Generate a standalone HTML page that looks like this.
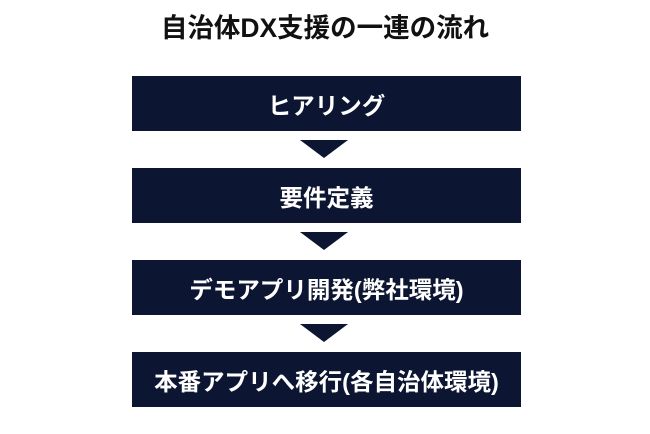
<!DOCTYPE html>
<html><head><meta charset="utf-8"><style>
body{margin:0;width:650px;height:434px;background:#fff;font-family:"Liberation Sans","Noto Sans CJK JP",sans-serif;position:relative;overflow:hidden}
.t{position:absolute;left:0;width:650px;top:10px;text-align:center;font-size:26.5px;font-weight:bold;color:#111;line-height:36px}
.b{position:absolute;left:132px;width:389px;height:55px;background:#0c1531;color:#fff;font-weight:bold;font-size:23.5px;display:flex;align-items:center;justify-content:center}
.a{position:absolute;left:300px;width:0;height:0;border-left:24.5px solid transparent;border-right:24.5px solid transparent;border-top:18px solid #0c1531}
</style></head><body>
<div class="t">自治体DX支援の一連の流れ</div>
<div class="b" style="top:76px">ヒアリング</div>
<div class="a" style="top:140px"></div>
<div class="b" style="top:168px">要件定義</div>
<div class="a" style="top:232px"></div>
<div class="b" style="top:260px">デモアプリ開発(弊社環境)</div>
<div class="a" style="top:324px"></div>
<div class="b" style="top:352px">本番アプリへ移行(各自治体環境)</div>
</body></html>
